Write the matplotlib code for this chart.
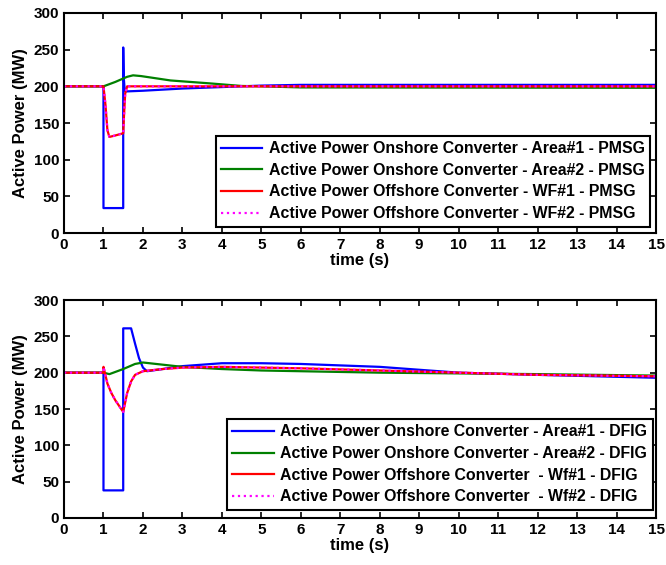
import matplotlib
matplotlib.use('Agg')
import matplotlib.pyplot as plt

plt.rcParams['font.family'] = ['Liberation Sans', 'DejaVu Sans']
plt.rcParams['font.weight'] = 'bold'

# --- PMSG case (top panel) ---
t_on1_pmsg = [0, 1.0, 1.0, 1.5, 1.5, 1.51, 1.53, 1.55, 2.0, 3.0, 4.0, 4.5, 5.0, 6.0, 15]
p_on1_pmsg = [200, 200, 34, 34, 253, 215, 200, 193, 194, 197, 199, 200, 201, 202, 202]

t_on2_pmsg = [0, 1.0, 1.3, 1.6, 1.75, 1.95, 2.7, 3.7, 4.5, 5.0, 6.0, 15]
p_on2_pmsg = [200, 200, 206, 213, 215, 214, 208, 204, 200.5, 200, 198.5, 198]

t_off1_pmsg = [0, 1.0, 1.05, 1.1, 1.15, 1.3, 1.5, 1.52, 1.55, 1.6, 15]
p_off1_pmsg = [200, 200, 175, 140, 131, 133, 136, 160, 190, 200, 200]

t_off2_pmsg = t_off1_pmsg
p_off2_pmsg = p_off1_pmsg

# --- DFIG case (bottom panel) ---
t_on1_dfig = [0, 1.0, 1.0, 1.5, 1.5, 1.7, 1.8, 1.9, 2.0, 2.1, 2.5, 3.0, 4.0, 5.0, 6.0, 7.0, 8.0, 9.0, 10.0, 12.0, 15]
p_on1_dfig = [200, 200, 38, 38, 261, 261, 240, 220, 207, 202, 205, 209, 213, 213, 212, 210, 208, 204, 200, 197, 193]

t_on2_dfig = [0, 1.0, 1.15, 1.5, 1.8, 2.0, 2.5, 3.0, 4.0, 5.0, 6.0, 8.0, 10.0, 12.0, 15]
p_on2_dfig = [200, 200, 198, 205, 212, 214, 211, 208, 205, 203, 202, 200, 199, 198, 196]

t_off1_dfig = [0, 1.0, 1.0, 1.1, 1.2, 1.3, 1.4, 1.5, 1.6, 1.7, 1.8, 2.0, 2.5, 3.0, 4.0, 5.0, 6.0, 8.0, 10.0, 12.0, 15]
p_off1_dfig = [200, 200, 208, 185, 172, 162, 154, 146, 172, 188, 197, 202, 205, 207, 208, 207, 206, 203, 200, 197, 195]

t_off2_dfig = t_off1_dfig
p_off2_dfig = p_off1_dfig

labels_pmsg = ['Active Power Onshore Converter - Area#1 - PMSG',
               'Active Power Onshore Converter - Area#2 - PMSG',
               'Active Power Offshore Converter - WF#1 - PMSG',
               'Active Power Offshore Converter - WF#2 - PMSG']
labels_dfig = ['Active Power Onshore Converter - Area#1 - DFIG',
               'Active Power Onshore Converter - Area#2 - DFIG',
               'Active Power Offshore Converter  - Wf#1 - DFIG',
               'Active Power Offshore Converter  - Wf#2 - DFIG']

x_ticks = list(range(0, 16))
y_ticks = [0, 50, 100, 150, 200, 250, 300]

colors = ['#0000ff', '#008000', '#ff0000', '#ff00ff']
styles = ['-', '-', '-', ':']

fig = plt.figure(figsize=(6.66, 5.65), dpi=100)
ax1 = fig.add_axes([0.0961, 0.5876, 0.889, 0.3894])
ax2 = fig.add_axes([0.0961, 0.0832, 0.889, 0.3858])

panels = [
    (ax1, [(t_on1_pmsg, p_on1_pmsg), (t_on2_pmsg, p_on2_pmsg),
           (t_off1_pmsg, p_off1_pmsg), (t_off2_pmsg, p_off2_pmsg)],
     labels_pmsg, (0.99, 0.029)),
    (ax2, [(t_on1_dfig, p_on1_dfig), (t_on2_dfig, p_on2_dfig),
           (t_off1_dfig, p_off1_dfig), (t_off2_dfig, p_off2_dfig)],
     labels_dfig, (0.994, 0.037)),
]

for ax, series, labels, anchor in panels:
    for (t, p), lab, c, ls in zip(series, labels, colors, styles):
        ax.plot(t, p, color=c, linestyle=ls, linewidth=1.6, label=lab)
    ax.set_xlim(0, 15)
    ax.set_ylim(0, 300)
    ax.set_xticks(x_ticks)
    ax.set_yticks(y_ticks)
    ax.tick_params(direction='in', top=True, right=True, labelsize=11,
                   length=4, width=1.2)
    for lbl in ax.get_xticklabels() + ax.get_yticklabels():
        lbl.set_fontweight('bold')
    for sp in ax.spines.values():
        sp.set_linewidth(1.5)
    ax.set_xlabel('time (s)', fontsize=12, fontweight='bold', labelpad=1)
    ax.set_ylabel('Active Power (MW)', fontsize=12, fontweight='bold')
    leg = ax.legend(loc='lower right', bbox_to_anchor=anchor,
                    borderaxespad=0, fancybox=False, edgecolor='black',
                    framealpha=1, fontsize=11.4, handlelength=2.6,
                    labelspacing=0.42, handletextpad=0.4, borderpad=0.35)
    leg.get_frame().set_linewidth(1.5)
    for txt in leg.get_texts():
        txt.set_fontweight('bold')

plt.savefig('out.png', dpi=100)
